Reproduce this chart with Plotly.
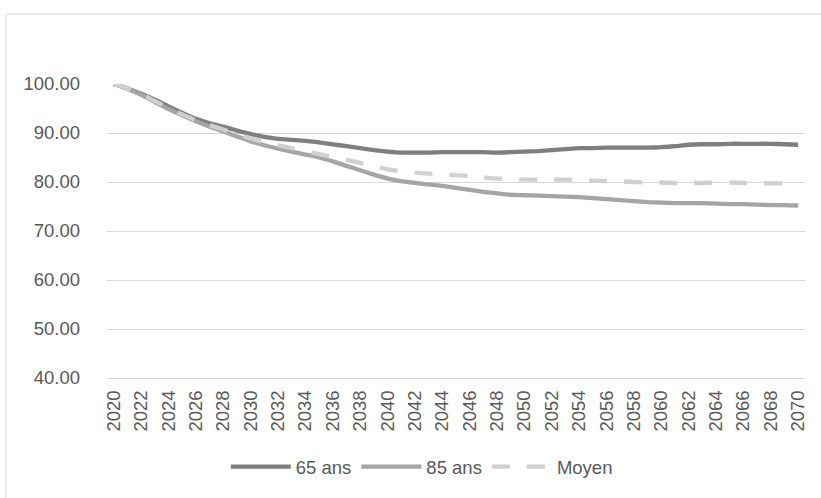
import plotly.graph_objects as go

years = list(range(2020, 2071))

ans_65 = [
    100.0, 99.1, 98.0, 96.8, 95.4, 94.1, 92.9, 92.0, 91.3, 90.5,
    89.8, 89.2, 88.8, 88.6, 88.4, 88.1, 87.7, 87.3, 86.9, 86.5,
    86.2, 86.0, 86.0, 86.0, 86.1, 86.1, 86.1, 86.1, 86.0, 86.1,
    86.2, 86.3, 86.5, 86.7, 86.9, 86.9, 87.0, 87.0, 87.0, 87.0,
    87.1, 87.3, 87.6, 87.7, 87.7, 87.8, 87.8, 87.8, 87.8, 87.7,
    87.6,
]

ans_85 = [
    100.0, 99.0, 97.8, 96.3, 94.9, 93.6, 92.4, 91.3, 90.3, 89.3,
    88.3, 87.5, 86.8, 86.2, 85.6, 85.0, 84.2, 83.3, 82.4, 81.5,
    80.7, 80.2, 79.8, 79.5, 79.2, 78.8, 78.4, 78.0, 77.7, 77.4,
    77.3, 77.2, 77.1, 77.0, 76.9, 76.7, 76.5, 76.3, 76.1, 75.9,
    75.8, 75.7, 75.7, 75.7, 75.6, 75.5, 75.5, 75.4, 75.3, 75.3,
    75.2,
]

moyen = [
    100.0, 99.1, 97.9, 96.5, 95.1, 93.8, 92.6, 91.6, 90.7, 89.8,
    88.9, 88.1, 87.5, 86.9, 86.3, 85.7, 85.1, 84.5, 83.9, 83.2,
    82.6, 82.2, 81.9, 81.7, 81.6, 81.4, 81.2, 80.9, 80.7, 80.6,
    80.5, 80.5, 80.5, 80.5, 80.4, 80.3, 80.2, 80.1, 80.0, 79.9,
    79.9, 79.8, 79.8, 79.8, 79.9, 79.9, 79.8, 79.8, 79.7, 79.7,
    79.6,
]

y_ticks = [40, 50, 60, 70, 80, 90, 100]
x_ticks = years[::2]

FONT = "Liberation Sans, Arial, sans-serif"
TXT = "#595959"

fig = go.Figure()
fig.add_trace(go.Scatter(x=years, y=ans_65, name="65 ans", mode="lines",
                         line=dict(color="#7f7f7f", width=4.3, shape="spline", smoothing=0.5)))
fig.add_trace(go.Scatter(x=years, y=ans_85, name="85 ans", mode="lines",
                         line=dict(color="#a5a5a5", width=4.3, shape="spline", smoothing=0.5)))
fig.add_trace(go.Scatter(x=years, y=moyen, name="Moyen", mode="lines",
                         line=dict(color="#d0d0d0", width=4.3, dash="18px,17px",
                                   shape="spline", smoothing=0.5)))

fig.update_layout(
    width=821, height=498,
    margin=dict(l=107, r=16, t=84, b=120),
    paper_bgcolor="white", plot_bgcolor="white",
    font=dict(family=FONT, size=18.5, color=TXT),
    showlegend=True,
    legend=dict(orientation="h", x=0.451, xanchor="center", y=-0.303, yanchor="middle",
                font=dict(family=FONT, size=18.5, color=TXT),
                itemwidth=60, tracegroupgap=0, bgcolor="rgba(0,0,0,0)"),
    shapes=[dict(type="rect", xref="paper", yref="paper",
                 x0=-0.1447, x1=1.05, y0=-0.5, y1=1.238,
                 line=dict(color="#d9d9d9", width=1), layer="below")],
)

fig.update_xaxes(
    range=[2019.5, 2070.5], tickvals=x_ticks, ticktext=[str(v) for v in x_ticks],
    tickangle=-90, showgrid=False, zeroline=False,
    showline=True, linecolor="#d9d9d9", linewidth=1,
    ticks="", ticklabelstandoff=4,
    tickfont=dict(family=FONT, size=18.5, color=TXT),
)
fig.update_yaxes(
    range=[40, 100], tickvals=y_ticks, tickformat=".2f",
    showgrid=True, gridcolor="#d9d9d9", gridwidth=1,
    zeroline=False, showline=False, ticks="", ticklabelstandoff=26,
    tickfont=dict(family=FONT, size=18.5, color=TXT),
)

fig.write_html("out.html")
